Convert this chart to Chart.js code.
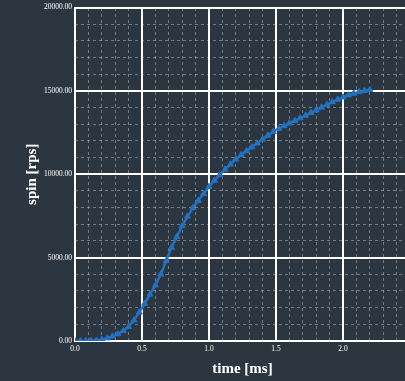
<!DOCTYPE html>
<html>
<head>
<meta charset="utf-8">
<script src="https://cdn.jsdelivr.net/npm/chart.js@4"></script>
<style>
  html, body { margin: 0; padding: 0; background: #2b3640; overflow: hidden; }
  canvas { display: block; }
</style>
</head>
<body>
<canvas id="spinChart" width="420" height="381"></canvas>
<script>
'use strict';

// spin-up run: time in ms, spin in rps
let timeMs = [
  0.00, 0.04, 0.08, 0.12, 0.16, 0.20, 0.24, 0.28, 0.32, 0.36,
  0.40, 0.44, 0.48, 0.52, 0.56, 0.60, 0.64, 0.68, 0.72, 0.76,
  0.80, 0.84, 0.88, 0.92, 0.96, 1.00, 1.04, 1.08, 1.12, 1.16,
  1.20, 1.24, 1.28, 1.32, 1.36, 1.40, 1.44, 1.48, 1.52, 1.56,
  1.60, 1.64, 1.68, 1.72, 1.76, 1.80, 1.84, 1.88, 1.92, 1.96,
  2.00, 2.04, 2.08, 2.12, 2.16, 2.20
];
let spinRps = [
  0, 0, 0, 10, 40, 90, 170, 280, 420, 610,
  860, 1250, 1720, 2250, 2800, 3350, 4000, 4800, 5600, 6250,
  6900, 7480, 7980, 8420, 8830, 9250, 9620, 9960, 10290, 10600,
  10900, 11160, 11400, 11630, 11860, 12100, 12330, 12550, 12730, 12900,
  13060, 13210, 13370, 13520, 13680, 13840, 14010, 14170, 14330, 14480,
  14620, 14740, 14850, 14940, 15010, 15070
];

// axis ranges and tick steps
let xRange = [0, 2.5];
let yRange = [0, 20000];
let xMajorStep = 0.5;
let xMinorStep = 0.1;
let yMajorStep = 5000;
let yMinorStep = 1000;

let points = [];
for (let i = 0; i < timeMs.length; i++) {
  points.push({ x: timeMs[i], y: spinRps[i] });
}

let tickFont = { family: 'Liberation Serif', size: 7.5 };
let titleFont = { family: 'Liberation Serif', size: 15, weight: 'bold' };
let minorGridColor = 'rgba(205, 210, 215, 0.45)';

// fixes the size of an axis box so the plot area lands where we want it
function fixSize(size) {
  return function (scale) {
    if (scale.isHorizontal()) {
      scale.height = size;
    } else {
      scale.width = size;
    }
  };
}

let ctx = document.getElementById('spinChart').getContext('2d');
let spinChart = new Chart(ctx, {
  type: 'line',
  data: {
    datasets: [{
      data: points,
      borderColor: '#2372c0',
      backgroundColor: '#2372c0',
      borderWidth: 2.5,
      pointStyle: 'triangle',
      pointRadius: 3.5,
      pointBorderWidth: 1,
      pointBorderColor: '#2372c0',
      pointBackgroundColor: '#2372c0',
      tension: 0
    }]
  },
  options: {
    responsive: false,
    animation: false,
    devicePixelRatio: 1,
    layout: { padding: { top: 7, right: 10, bottom: 0, left: 0 } },
    plugins: {
      legend: { display: false },
      tooltip: { enabled: false }
    },
    scales: {
      x: {
        type: 'linear',
        position: 'bottom',
        min: xRange[0],
        max: xRange[1],
        afterFit: fixSize(40),
        ticks: {
          stepSize: xMajorStep,
          color: '#ffffff',
          font: tickFont,
          padding: 4,
          maxRotation: 0,
          autoSkip: false,
          callback: (v) => Number(v).toFixed(1)
        },
        grid: { color: '#ffffff', lineWidth: 2, drawTicks: false },
        border: { display: true, color: '#ffffff', width: 2 },
        title: {
          display: true,
          text: 'time [ms]',
          color: '#ffffff',
          font: titleFont,
          padding: { top: 0, bottom: 3 }
        }
      },
      xMinor: {
        type: 'linear',
        position: 'top',
        min: xRange[0],
        max: xRange[1],
        afterFit: fixSize(0),
        ticks: { stepSize: xMinorStep, display: false },
        grid: { color: minorGridColor, lineWidth: 1, drawTicks: false, z: -2 },
        border: { display: false, dash: [3, 3] }
      },
      y: {
        type: 'linear',
        position: 'left',
        min: yRange[0],
        max: yRange[1],
        afterFit: fixSize(75),
        ticks: {
          stepSize: yMajorStep,
          color: '#ffffff',
          font: tickFont,
          padding: 3,
          callback: (v) => Number(v).toFixed(2)
        },
        grid: { color: '#ffffff', lineWidth: 2, drawTicks: false },
        border: { display: true, color: '#ffffff', width: 2 },
        title: {
          display: true,
          text: 'spin [rps]',
          color: '#ffffff',
          font: titleFont,
          padding: { top: 23, bottom: 0 }
        }
      },
      yMinor: {
        type: 'linear',
        position: 'right',
        min: yRange[0],
        max: yRange[1],
        afterFit: fixSize(0),
        ticks: { stepSize: yMinorStep, display: false },
        grid: { color: minorGridColor, lineWidth: 1, drawTicks: false, z: -2 },
        border: { display: false, dash: [3, 3] }
      }
    }
  }
});
</script>
</body>
</html>
